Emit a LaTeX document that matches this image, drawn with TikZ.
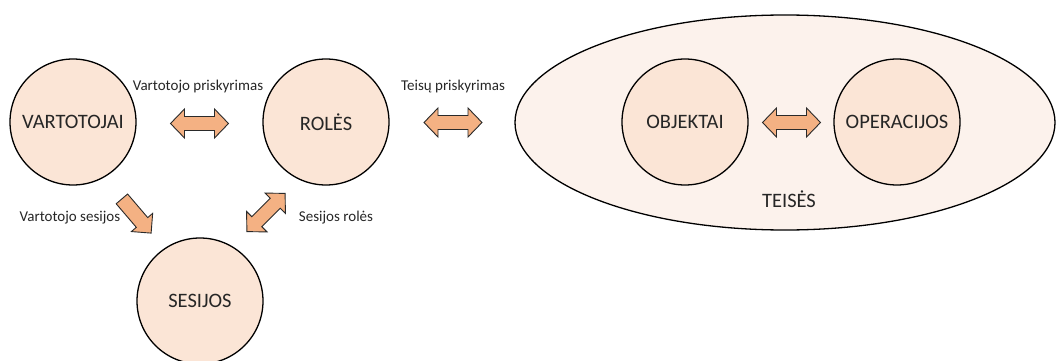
\documentclass[tikz,border=0pt]{standalone}
\usepackage{fontspec}
\setmainfont{Carlito}
\usetikzlibrary{shapes.geometric}

\definecolor{circfill}{HTML}{FBE5D6}
\definecolor{ovalfill}{HTML}{FCF2EC}
\definecolor{arrowfill}{HTML}{F4B183}
\definecolor{arrowline}{HTML}{2A2A2A}
\definecolor{txt}{HTML}{262626}

\tikzset{
  entity/.style={circle, draw=black, line width=1.3pt, fill=circfill,
    minimum size=126pt, inner sep=0pt, text=txt,
    font=\fontsize{20.5}{22}\selectfont},
  realm/.style={ellipse, draw=black, line width=1.3pt, fill=ovalfill,
    minimum width=540pt, minimum height=215pt, inner sep=0pt},
  caption/.style={text=txt, inner sep=0pt, font=\fontsize{15}{17}\selectfont},
  bigcaption/.style={text=txt, inner sep=0pt, font=\fontsize{20.5}{22}\selectfont},
  blockarrow/.style={fill=arrowfill, draw=arrowline, line width=0.9pt, line join=miter},
  % two-headed block arrow, #1 = half of its length
  pics/dblarrow/.style={code={
    \path[blockarrow] (-#1,0) -- ({-#1+14},14.5) -- ({-#1+14},7) -- ({#1-14},7)
      -- ({#1-14},14.5) -- (#1,0) -- ({#1-14},-14.5) -- ({#1-14},-7)
      -- ({-#1+14},-7) -- ({-#1+14},-14.5) -- cycle;
  }},
  % one-headed block arrow pointing along +x, #1 = half of its length
  pics/sglarrow/.style={code={
    \path[blockarrow] (-#1,-7.5) -- ({#1-14},-7.5) -- ({#1-14},-14) -- (#1,0)
      -- ({#1-14},14) -- ({#1-14},7.5) -- (-#1,7.5) -- cycle;
  }},
}

\begin{document}
\begin{tikzpicture}[x=1pt, y=-1pt]
  \useasboundingbox (0,0) rectangle (1057,361);

  % permissions region
  \node[realm] (perm) at (785,122.5) {};
  \node[bigcaption] (permlbl) at (789,199) {TEISĖS};

  % entities
  \node[entity] (users) at (73,122) {VARTOTOJAI};
  \node[entity] (roles) at (326,122) {ROLĖS};
  \node[entity] (sess) at (200,301) {SESIJOS};
  \node[entity] (objs) at (685,122) {OBJEKTAI};
  \node[entity] (ops) at (897,122) {OPERACIJOS};

  % relations
  \pic (ua) at (199.5,123.5) {dblarrow=29};
  \pic (pa) at (453,122.5) {dblarrow=29};
  \pic (oo) at (791.5,122.5) {dblarrow=29};
  \pic[rotate=-49.5] (us) at (136.5,216) {sglarrow=22.5};
  \pic[rotate=45] (sr) at (266,212.5) {dblarrow=27};

  % relation captions
  \node[caption] (ualbl) at (198,87) {Vartotojo priskyrimas};
  \node[caption] (palbl) at (453,87) {Teisų priskyrimas};
  \node[caption] (uslbl) at (70,218) {Vartotojo sesijos};
  \node[caption] (srlbl) at (336,218) {Sesijos rolės};
\end{tikzpicture}
\end{document}
